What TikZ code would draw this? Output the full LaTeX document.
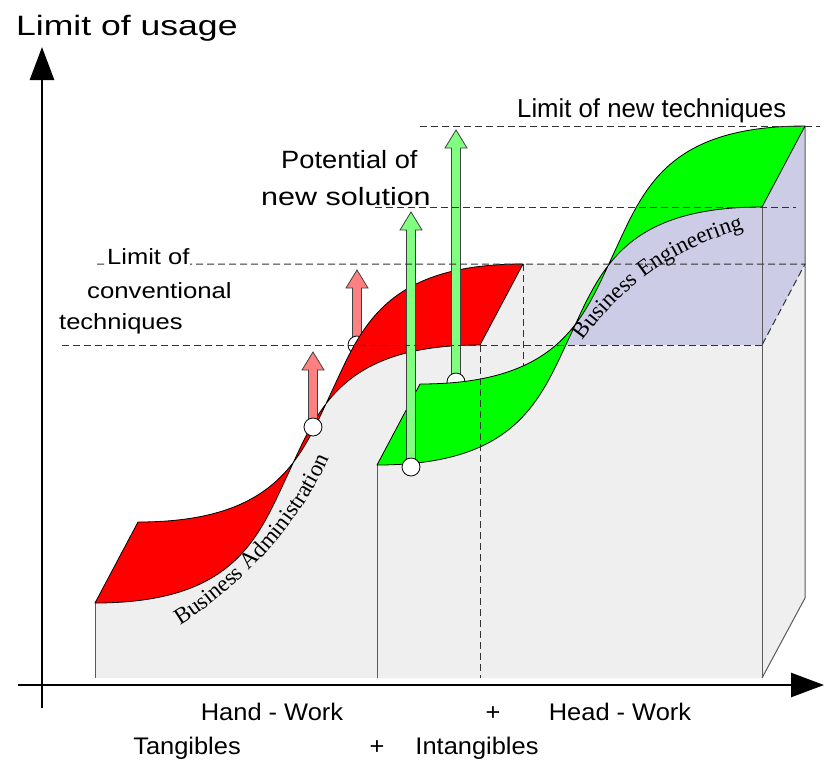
\documentclass[tikz,border=0pt]{standalone}
\usepackage{fontspec}
\usepackage{graphicx}
\usetikzlibrary{decorations.text,arrows.meta}
\newfontfamily\arialf{Liberation Sans}
\newfontfamily\seriff{Liberation Serif}
\definecolor{facegray}{RGB}{239,239,239}
\definecolor{lav}{RGB}{204,204,230}
\definecolor{redsurf}{RGB}{255,0,0}
\definecolor{greensurf}{RGB}{0,255,0}
\definecolor{redarr}{RGB}{255,128,128}
\definecolor{greenarr}{RGB}{128,255,128}
\definecolor{dashc}{RGB}{50,50,50}
\definecolor{edgec}{RGB}{90,90,90}
\newcommand{\lbl}[3]{\arialf\fontsize{#1}{#1}\selectfont\scalebox{#2}[1]{#3}}
\newcommand{\fatarrow}[4]{%
  \filldraw[fat,fill=#4] (#1-4.5,#2) -- (#1-4.5,#3+18) -- (#1-11,#3+18) -- (#1,#3) -- (#1+11,#3+18) -- (#1+4.5,#3+18) -- (#1+4.5,#2) -- cycle;}
\begin{document}
\begin{tikzpicture}[x=1pt,y=-1pt,
  surf/.style={draw=black,line width=0.8pt,line join=round},
  edge/.style={draw=edgec,line width=1pt},
  hidden/.style={draw=dashc,line width=1pt,dash pattern=on 7pt off 4pt},
  dot/.style={circle,draw=black,fill=white,line width=0.8pt,minimum size=18pt,inner sep=0pt},
  fat/.style={draw=black!75,line width=0.8pt,line join=miter},
  axis/.style={line width=2.6pt,-{Triangle[length=33pt,width=24pt]}},
  lab/.style={inner sep=0pt,anchor=base west},
  labc/.style={inner sep=0pt,anchor=base},
]
\useasboundingbox (0,0) rectangle (824,761);

% grey faces
\fill[facegray] (95,678) -- (95,603) .. controls (235,603) and (258,538) .. (288,474) .. controls (318,410) and (340,345) .. (480,345) -- (480,678) -- cycle;
\fill[facegray] (480,345) -- (523,264) -- (805,264) -- (805,598) -- (762,678) -- (480,678) -- cycle;
\draw[hidden] (523,264) -- (523,678);
\fill[facegray] (377,678) -- (377,465) .. controls (517,465) and (540,400) .. (570,336) .. controls (600,272) and (622,207) .. (762,207) -- (762,678) -- cycle;

% lavender faces
\begin{scope}
  \clip (377,678) -- (377,465) .. controls (517,465) and (540,400) .. (570,336) .. controls (600,272) and (622,207) .. (762,207) -- (762,678) -- cycle;
  \fill[lav] (377,207) rectangle (762,345);
\end{scope}
\fill[lav] (762,207) -- (805,126) -- (805,264) -- (762,345) -- cycle;

% solid edges
\draw[edge] (95,603) -- (95,678);
\draw[edge] (377,465) -- (377,678);
\draw[edge] (762,207) -- (762,678);
\draw[edge] (805,126) -- (805,598) -- (762,678);

% red arrow behind the red surface
\coordinate (rt2) at (358,270);
\fatarrow{357}{345}{270}{redarr}
\node[dot] (rc2) at (357,345) {};

% red surface
\filldraw[surf,fill=redsurf] (95,603) .. controls (235,603) and (258,538) .. (288,474) .. controls (318,410) and (340,345) .. (480,345) -- (523,264) .. controls (383,264) and (361,329) .. (331,393) .. controls (301,457) and (278,522) .. (138,522) -- cycle;

% green arrow behind the green surface
\coordinate (gt2) at (456,130);
\fatarrow{456}{382}{130}{greenarr}
\node[dot] (gc2) at (456,382) {};

% green surface
\filldraw[surf,fill=greensurf] (377,465) .. controls (517,465) and (540,400) .. (570,336) .. controls (600,272) and (622,207) .. (762,207) -- (805,126) .. controls (665,126) and (643,191) .. (613,255) .. controls (583,319) and (560,384) .. (420,384) -- cycle;

% front arrows
\coordinate (rt1) at (313,352);
\fatarrow{313}{427}{352}{redarr}
\node[dot] (rc1) at (313,427) {};
\coordinate (gt1) at (411,212);
\fatarrow{411}{467}{212}{greenarr}
\node[dot] (gc1) at (411,467) {};

% curved labels
\path[decorate,decoration={text along path,text align=left,
  text={|\seriff\fontsize{23}{23}\selectfont|Business Administration}}]
  (180,625) .. controls (214,605) and (298,540) .. (334,446);
\path[decorate,decoration={text along path,text align=left,
  text={|\seriff\fontsize{23}{23}\selectfont|Business Engineering}}]
  (583,341) .. controls (614,298) and (665,245) .. (770,222);

% dashed limit lines
\draw[hidden] (420,126) -- (820,126);
\draw[hidden] (375,207) -- (796,207);
\draw[hidden] (97,264) -- (805,264) -- (762,345);
\draw[hidden] (62,345) -- (762,345);
\draw[hidden] (480,345) -- (480,678);

% axes
\coordinate (yb) at (42,708);
\coordinate (yt) at (42,47);
\coordinate (xl) at (18,685);
\coordinate (xr) at (824,685);
\draw[axis] (yb) -- (yt);
\draw[axis] (xl) -- (xr);

% labels
\node[lab] (usage) at (16,35) {\lbl{28}{1.27}{Limit of usage}};
\node[lab,fill=white,inner xsep=1pt,inner ysep=3pt] (lc1) at (106,264) {\lbl{22}{1.16}{Limit of}};
\node[lab] (lc2) at (87,298) {\lbl{22}{1.17}{conventional}};
\node[lab] (lc3) at (59,329) {\lbl{22}{1.16}{techniques}};
\node[lab] (pot1) at (281,168) {\lbl{25}{1.09}{Potential of}};
\node[lab] (pot2) at (261,205) {\lbl{25}{1.22}{new solution}};
\node[lab] (lnew) at (517,117) {\lbl{26}{0.99}{Limit of new techniques}};
\node[labc] (hand) at (272,720) {\lbl{24}{1.06}{Hand - Work}};
\node[labc] (plus1) at (493,720) {\lbl{24}{1.06}{+}};
\node[labc] (head) at (620,720) {\lbl{24}{1.06}{Head - Work}};
\node[labc] (tang) at (187,754) {\lbl{24}{1.06}{Tangibles}};
\node[labc] (plus2) at (377,754) {\lbl{24}{1.06}{+}};
\node[labc] (intang) at (477,754) {\lbl{24}{1.06}{Intangibles}};
\end{tikzpicture}
\end{document}
